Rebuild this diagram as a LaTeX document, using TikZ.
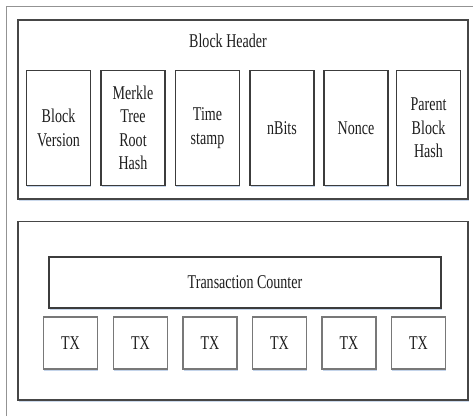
\documentclass[tikz,border=0pt]{standalone}
\usepackage{fontspec}
\setmainfont{Liberation Serif}[FakeStretch=0.72]
\usetikzlibrary{shadows}
\definecolor{inkgray}{RGB}{30,30,30}
\definecolor{framegray}{RGB}{70,70,70}
\definecolor{boxgray}{RGB}{60,60,60}
\definecolor{txgray}{RGB}{120,120,120}
\definecolor{shadowblue}{RGB}{190,208,232}
\tikzset{
  container/.style={draw=framegray, line width=1.4pt, rectangle,
    drop shadow={shadow xshift=0.6pt, shadow yshift=-1.6pt, fill=shadowblue, opacity=0.8}, fill=white},
  field/.style={draw=boxgray, line width=1.1pt, rectangle, fill=white,
    minimum width=64pt, minimum height=115pt, inner sep=1pt, align=center,
    text=inkgray, font=\fontsize{19.5}{23.5}\selectfont,
    drop shadow={shadow xshift=0.6pt, shadow yshift=-1.8pt, fill=shadowblue, opacity=0.9}},
  txbox/.style={field, draw=txgray, minimum width=54pt, minimum height=52pt},
  label/.style={text=inkgray, font=\fontsize{19.5}{23.5}\selectfont, inner sep=0pt}
}
\begin{document}
\begin{tikzpicture}[x=1pt, y=-1pt]
  \useasboundingbox (0,0) rectangle (473,416);
  \fill[white] (0,0) rectangle (473,416);
  % outer page frame (left and top edges only are in view)
  \draw[draw=gray!85, line width=1.1pt] (6.5,416) -- (6.5,6.5) -- (473,6.5);

  % block header section
  \node[container, minimum width=450pt, minimum height=179pt] (header) at (243,109.5) {};
  \node[label] (htitle) at (228,41) {Block Header};
  \node[field] (ver)   at (58.5,128)  {Block\\Version};
  \node[field] (mrkl)  at (133,128)   {Merkle\\Tree\\Root\\Hash};
  \node[field] (time)  at (207.5,128) {Time\\stamp};
  \node[field] (nbits) at (282,128)   {nBits};
  \node[field] (nonce) at (356,128)   {Nonce};
  \node[field] (prev)  at (428.5,128) {Parent\\Block\\Hash};

  % transaction section
  \node[container, minimum width=450pt, minimum height=178.5pt] (body) at (243,310.75) {};
  \node[field, minimum width=392pt, minimum height=51pt] (count) at (245,282.5) {Transaction Counter};
  \foreach \i/\cx in {1/70.5, 2/140.5, 3/210, 4/279.5, 5/349, 6/418.5}
    \node[txbox] (tx\i) at (\cx,343) {TX};
\end{tikzpicture}
\end{document}
